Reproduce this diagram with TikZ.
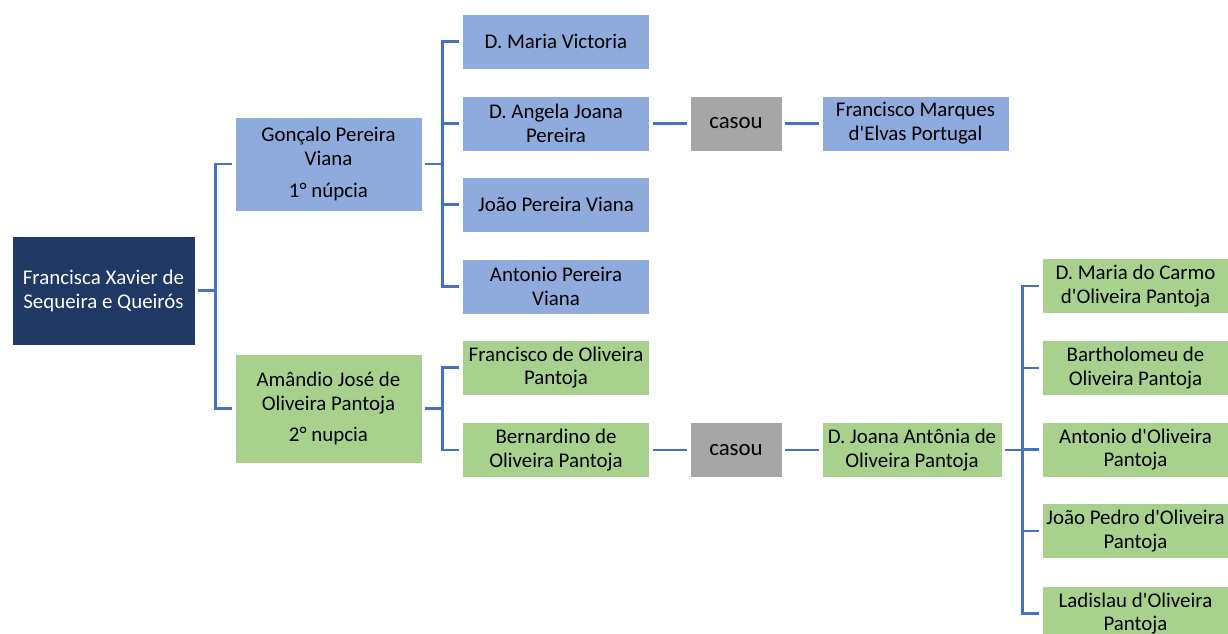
\documentclass[tikz,border=0pt]{standalone}
\usepackage{fontspec}
\setmainfont{Carlito}
\definecolor{navy}{HTML}{203864}
\definecolor{bluefill}{HTML}{8FAADC}
\definecolor{greenfill}{HTML}{A9D18E}
\definecolor{greyfill}{HTML}{A6A6A6}
\definecolor{linkblue}{HTML}{4472C4}
\newcommand{\ap}{\textquotesingle}

\begin{document}
\begin{tikzpicture}[x=0.02cm,y=-0.02cm,
  box/.style={draw=white,line width=0.4pt,minimum width=3.74cm,minimum height=1.1cm,
    inner sep=1pt,align=center,font=\fontsize{11.9}{13.6}\selectfont},
  rootbox/.style={box,fill=navy,text=white,minimum width=3.66cm,minimum height=2.18cm},
  firstwed/.style={box,fill=bluefill},
  secondwed/.style={box,fill=greenfill},
  married/.style={box,fill=greyfill,minimum width=1.84cm,font=\fontsize{13}{15}\selectfont},
  link/.style={draw=linkblue,line width=1.6pt,shorten <=1.7pt,shorten >=1.7pt}]
\clip (0,0) rectangle (1228,634);

% grandmother and her two husbands
\node[rootbox] (fxq) at (103.5,290.5) {Francisca Xavier de\\Sequeira e Queirós};
\node[firstwed,minimum height=1.88cm] (gpv) at (328.5,164) {Gonçalo Pereira\\Viana\\[4.5pt]1° núpcia};
\node[secondwed,minimum height=2.18cm] (ajo) at (328.5,408.5) {Amândio José de\\Oliveira Pantoja\\[4.5pt]2° nupcia};

% children of the 1st marriage
\foreach \y/\n/\t in {41.5/dmv/{D. Maria Victoria},123.5/daj/{D. Angela Joana\\Pereira},
    204.5/jpv/{João Pereira Viana},286.5/apv/{Antonio Pereira\\Viana}}
  \node[firstwed] (\n) at (556,\y) {\t};
\node[married] (cas1) at (736,123.5) {casou};
\node[firstwed] (fmp) at (915.5,123.5) {Francisco Marques\\d\ap Elvas Portugal};

% children of the 2nd marriage
\node[secondwed] (fop) at (556,367.5) {Francisco de Oliveira\\Pantoja};
\node[secondwed] (bop) at (556,450) {Bernardino de\\Oliveira Pantoja};
\node[married] (cas2) at (736,450) {casou};
\node[secondwed,minimum width=3.6cm] (djp) at (912,450) {D. Joana Antônia de\\Oliveira Pantoja};

% grandchildren
\foreach \y/\n/\t in {286/mcp/{D. Maria do Carmo\\d\ap Oliveira Pantoja},368/bdp/{Bartholomeu de\\Oliveira Pantoja},
    449.5/adp/{Antonio d\ap Oliveira\\Pantoja},531/jdp/{João Pedro d\ap Oliveira\\Pantoja},
    613.5/ldp/{Ladislau d\ap Oliveira\\Pantoja}}
  \node[secondwed] (\n) at (1135.5,\y) {\t};

% connectors
\foreach \n in {gpv,ajo}
  \draw[link] (fxq.east) -- ++(20,0) |- (\n.west);
\foreach \n in {dmv,daj,jpv,apv}
  \draw[link] (gpv.east) -- ++(20,0) |- (\n.west);
\foreach \n in {fop,bop}
  \draw[link] (ajo.east) -- ++(20,0) |- (\n.west);
\foreach \n in {mcp,bdp,adp,jdp,ldp}
  \draw[link] (djp.east) -- ++(20,0) |- (\n.west);
\draw[link] (daj) -- (cas1);
\draw[link] (cas1) -- (fmp);
\draw[link] (bop) -- (cas2);
\draw[link] (cas2) -- (djp);
\end{tikzpicture}
\end{document}
